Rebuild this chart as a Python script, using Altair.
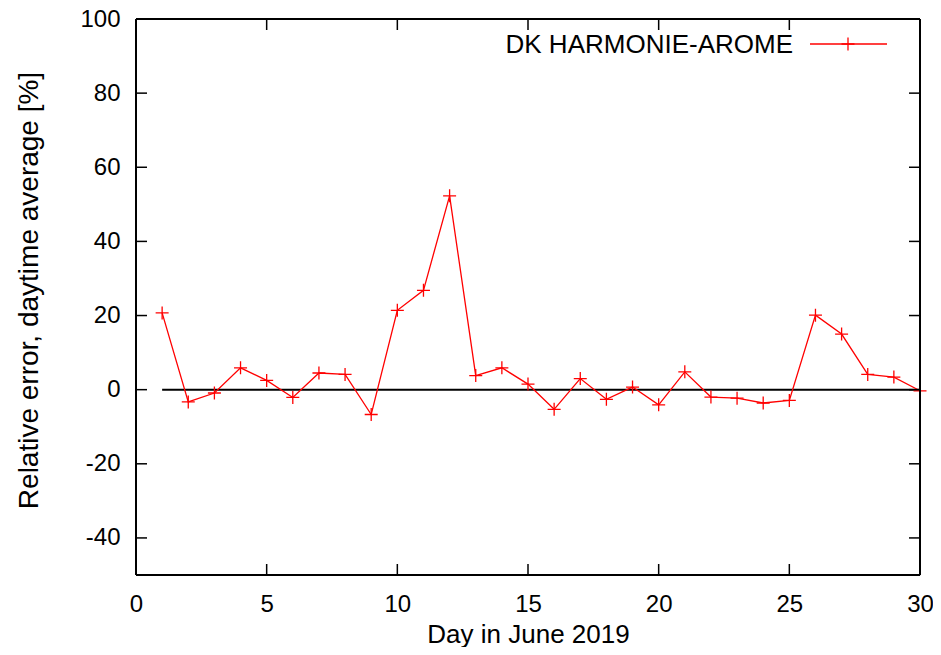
import altair as alt
import pandas as pd

# ---- data ----
days = list(range(1, 31))
errors = [20.7, -3.3, -0.9, 5.9, 2.5, -2.1, 4.5, 4.1, -6.7, 21.4,
          26.8, 52.3, 3.8, 5.9, 1.5, -5.3, 3.0, -2.6, 0.7, -4.1,
          4.8, -2.0, -2.3, -3.6, -2.9, 20.1, 15.0, 4.1, 3.4, -0.3]
x_ticks = [0, 5, 10, 15, 20, 25, 30]
y_ticks = [-40, -20, 0, 20, 40, 60, 80, 100]
zero_start = [1]
zero_end = [30]
zero_level = [0]
series_name = ["DK HARMONIE-AROME"]

W, H = 784, 556
FONT = "Liberation Sans"
TICK = 11
PLUS = "M-1,0H1M0,-1V1"
RED = "#ff0000"

df = pd.DataFrame({"day": days, "err": errors})
xt = pd.DataFrame({"t": x_ticks})
yt = pd.DataFrame({"t": y_ticks})
zl = pd.DataFrame({"a": zero_start, "b": zero_end, "y": zero_level})
lg = pd.DataFrame({"name": series_name})

xscale = alt.Scale(domain=[0, 30], nice=False, zero=False)
yscale = alt.Scale(domain=[-50, 100], nice=False, zero=False)

label_expr = "datum.value < 0 ? '-' + abs(datum.value) : '' + datum.value"

xaxis = alt.Axis(values=x_ticks, title="Day in June 2019", grid=False, ticks=False,
                 domain=False, labelFont=FONT, labelFontSize=24, labelColor="black",
                 labelPadding=17, labelFlush=False, labelExpr=label_expr,
                 titleFont=FONT, titleFontSize=26,
                 titleFontWeight="normal", titleColor="black", titleY=67,
                 titleBaseline="alphabetic")
yaxis = alt.Axis(values=y_ticks, title="Relative error, daytime average [%]", grid=False,
                 ticks=False, domain=False, labelFont=FONT, labelFontSize=24,
                 labelColor="black", labelPadding=16, labelFlush=False,
                 labelExpr=label_expr, titleFont=FONT,
                 titleFontSize=28, titleFontWeight="normal", titleColor="black",
                 titleX=-99, titleY=271, titleAngle=-90, titleBaseline="alphabetic",
                 titleAlign="center")

zero = alt.Chart(zl).mark_rule(color="black", strokeWidth=2).encode(
    x=alt.X("a:Q", scale=xscale, axis=xaxis),
    x2="b:Q",
    y=alt.Y("y:Q", scale=yscale, axis=yaxis),
)

line = alt.Chart(df).mark_line(color=RED, strokeWidth=1.3).encode(
    x=alt.X("day:Q", scale=xscale),
    y=alt.Y("err:Q", scale=yscale),
)
pts = alt.Chart(df).mark_point(shape=PLUS, size=169, filled=False, color=RED,
                               strokeWidth=1.3, opacity=1).encode(
    x=alt.X("day:Q", scale=xscale),
    y=alt.Y("err:Q", scale=yscale),
)

tb = alt.Chart(xt).mark_rule(color="black", strokeWidth=1.5).encode(
    x=alt.X("t:Q", scale=xscale), y=alt.value(H), y2=alt.value(H - TICK))
tt = alt.Chart(xt).mark_rule(color="black", strokeWidth=1.5).encode(
    x=alt.X("t:Q", scale=xscale), y=alt.value(0), y2=alt.value(TICK))
tl = alt.Chart(yt).mark_rule(color="black", strokeWidth=1.5).encode(
    y=alt.Y("t:Q", scale=yscale), x=alt.value(0), x2=alt.value(TICK))
tr = alt.Chart(yt).mark_rule(color="black", strokeWidth=1.5).encode(
    y=alt.Y("t:Q", scale=yscale), x=alt.value(W - TICK), x2=alt.value(W))

# plot frame
f_left = alt.Chart(lg).mark_rule(color="black", strokeWidth=2).encode(
    x=alt.value(0), y=alt.value(0), y2=alt.value(H))
f_right = alt.Chart(lg).mark_rule(color="black", strokeWidth=2).encode(
    x=alt.value(W), y=alt.value(0), y2=alt.value(H))
f_top = alt.Chart(lg).mark_rule(color="black", strokeWidth=2).encode(
    y=alt.value(0), x=alt.value(0), x2=alt.value(W))
f_bot = alt.Chart(lg).mark_rule(color="black", strokeWidth=2).encode(
    y=alt.value(H), x=alt.value(0), x2=alt.value(W))

lg_text = alt.Chart(lg).mark_text(font=FONT, fontSize=26, align="right",
                                  baseline="middle", color="black").encode(
    text="name:N", x=alt.value(657), y=alt.value(26))
lg_line = alt.Chart(lg).mark_rule(color=RED, strokeWidth=1.3).encode(
    x=alt.value(674), x2=alt.value(751), y=alt.value(25))
lg_pt = alt.Chart(lg).mark_point(shape=PLUS, size=169, filled=False, color=RED,
                                 strokeWidth=1.3, opacity=1).encode(
    x=alt.value(712), y=alt.value(25))

chart = alt.layer(zero, line, pts, tb, tt, tl, tr, f_left, f_right, f_top, f_bot,
                  lg_text, lg_line, lg_pt).properties(
    width=W, height=H,
    autosize=alt.AutoSizeParams(type="none"),
    padding={"left": 128, "top": 11, "right": 13, "bottom": 72},
).configure_view(strokeWidth=0).configure(background="white")

chart.save("out.html", embed_options={"renderer": "svg", "actions": False})
